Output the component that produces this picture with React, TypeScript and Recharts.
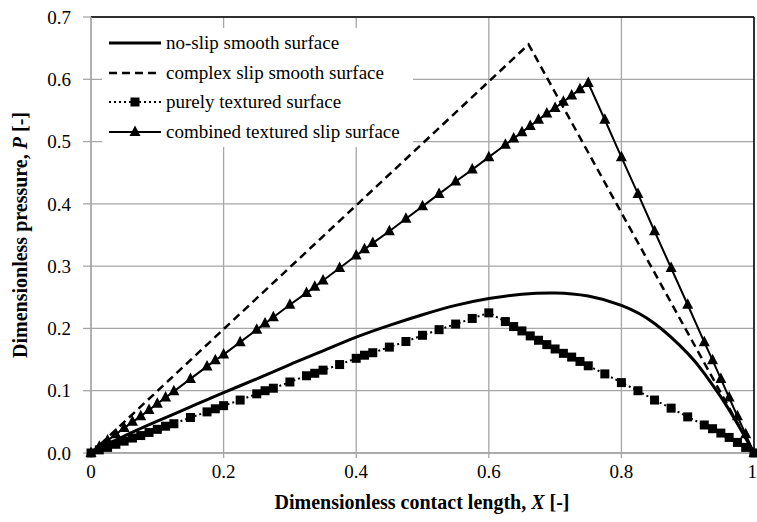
import React from "react";
import {
  LineChart,
  Line,
  XAxis,
  YAxis,
  CartesianGrid,
  Legend,
  ReferenceLine,
} from "recharts";

// X positions (dimensionless contact length) and P values
const noSlipX = [0, 0.05, 0.1, 0.15, 0.2, 0.25, 0.3, 0.35, 0.4, 0.45, 0.5, 0.55, 0.6, 0.65, 0.7, 0.75, 0.8, 0.85, 0.9, 0.925, 0.95, 0.975, 1];
const noSlipP = [0, 0.027, 0.051, 0.074, 0.097, 0.119, 0.142, 0.164, 0.186, 0.205, 0.222, 0.237, 0.248, 0.255, 0.257, 0.252, 0.237, 0.208, 0.16, 0.128, 0.09, 0.047, 0];

const complexX = [0, 0.66, 1];
const complexP = [0, 0.656, 0];

const texturedX = [
  0, 0.0125, 0.025, 0.0375, 0.05, 0.0625, 0.075, 0.0875, 0.1, 0.1125, 0.125, 0.15, 0.175, 0.1875, 0.2,
  0.225, 0.25, 0.2625, 0.275, 0.3, 0.325, 0.3375, 0.35, 0.375, 0.4, 0.4125, 0.425, 0.45, 0.475, 0.5,
  0.525, 0.55, 0.575, 0.6, 0.625, 0.6375, 0.65, 0.6625, 0.675, 0.6875, 0.7, 0.7125, 0.725, 0.7375,
  0.75, 0.775, 0.8, 0.825, 0.85, 0.875, 0.9, 0.925, 0.9375, 0.95, 0.9625, 0.975, 0.9875, 1,
];
const texturedP = [
  0, 0.005, 0.009, 0.014, 0.019, 0.024, 0.028, 0.033, 0.038, 0.043, 0.047, 0.057, 0.066, 0.071, 0.076,
  0.085, 0.095, 0.1, 0.104, 0.114, 0.124, 0.128, 0.133, 0.142, 0.152, 0.157, 0.161, 0.17, 0.179, 0.189,
  0.198, 0.207, 0.216, 0.225, 0.211, 0.203, 0.196, 0.188, 0.181, 0.174, 0.167, 0.16, 0.154, 0.147,
  0.14, 0.127, 0.113, 0.1, 0.085, 0.072, 0.058, 0.045, 0.039, 0.032, 0.025, 0.017, 0.009, 0,
];

const combinedX = [
  0, 0.0125, 0.025, 0.0375, 0.05, 0.0625, 0.075, 0.0875, 0.1, 0.1125, 0.125, 0.15, 0.175, 0.1875, 0.2,
  0.225, 0.25, 0.2625, 0.275, 0.3, 0.325, 0.3375, 0.35, 0.375, 0.4, 0.4125, 0.425, 0.45, 0.475, 0.5,
  0.525, 0.55, 0.575, 0.6, 0.625, 0.6375, 0.65, 0.6625, 0.675, 0.6875, 0.7, 0.7125, 0.725, 0.7375,
  0.75, 0.775, 0.8, 0.825, 0.85, 0.875, 0.9, 0.925, 0.9375, 0.95, 0.9625, 0.975, 0.9875, 1,
];
const combinedP = [
  0, 0.01, 0.02, 0.03, 0.04, 0.05, 0.059, 0.069, 0.079, 0.089, 0.099, 0.119, 0.139, 0.149, 0.158,
  0.178, 0.198, 0.208, 0.218, 0.238, 0.257, 0.267, 0.277, 0.297, 0.317, 0.327, 0.337, 0.356, 0.376, 0.396,
  0.416, 0.436, 0.455, 0.475, 0.495, 0.505, 0.515, 0.525, 0.535, 0.545, 0.554, 0.564, 0.574, 0.584,
  0.594, 0.535, 0.475, 0.416, 0.356, 0.297, 0.238, 0.178, 0.149, 0.119, 0.089, 0.059, 0.03, 0,
];

const xTicks = [0, 0.2, 0.4, 0.6, 0.8, 1];
const yTicks = [0, 0.1, 0.2, 0.3, 0.4, 0.5, 0.6, 0.7];

const seriesNames = [
  "no-slip smooth surface",
  "complex slip smooth surface",
  "purely textured surface",
  "combined textured slip surface",
];

const toPoints = (xs: number[], ys: number[]) => xs.map((x, i) => ({ x, y: ys[i] }));

const noSlipData = toPoints(noSlipX, noSlipP);
const complexData = toPoints(complexX, complexP);
const texturedData = toPoints(texturedX, texturedP);
const combinedData = toPoints(combinedX, combinedP);

const FONT = "Liberation Serif, Tinos, Times New Roman, DejaVu Serif, serif";
const GRID = "#a6a6a6";

const SquareDot = (props: any) => {
  const { cx, cy, index } = props;
  return <rect key={`sq-${index}`} x={cx - 4.5} y={cy - 4.5} width={9} height={9} fill="#000" />;
};

const TriangleDot = (props: any) => {
  const { cx, cy, index } = props;
  return (
    <path
      key={`tr-${index}`}
      d={`M${cx},${cy - 6.5} L${cx + 5.5},${cy + 4} L${cx - 5.5},${cy + 4} Z`}
      fill="#000"
    />
  );
};

const LegendBox = () => {
  const sym = (i: number) => {
    if (i === 0) return <line x1={0} y1={10} x2={52} y2={10} stroke="#000" strokeWidth={3} />;
    if (i === 1)
      return <line x1={0} y1={10} x2={52} y2={10} stroke="#000" strokeWidth={2.5} strokeDasharray="8 5" />;
    if (i === 2)
      return (
        <g>
          <line x1={0} y1={10} x2={52} y2={10} stroke="#000" strokeWidth={2} strokeDasharray="2 3" />
          <rect x={21.5} y={5.5} width={9} height={9} fill="#000" />
        </g>
      );
    return (
      <g>
        <line x1={0} y1={10} x2={52} y2={10} stroke="#000" strokeWidth={2} />
        <path d="M26,3.5 L31.5,14 L20.5,14 Z" fill="#000" />
      </g>
    );
  };
  return (
    <div style={{ background: "#fff", width: 311, height: 119, paddingLeft: 7, boxSizing: "border-box" }}>
      {seriesNames.map((n, i) => (
        <div key={n} style={{ height: 29.75, display: "flex", alignItems: "center" }}>
          <svg width={52} height={20} style={{ display: "block" }}>
            {sym(i)}
          </svg>
          <span style={{ marginLeft: 5, fontFamily: FONT, fontSize: 19, color: "#000", whiteSpace: "nowrap" }}>
            {n}
          </span>
        </div>
      ))}
    </div>
  );
};

export default function App() {
  return (
    <div style={{ position: "absolute", left: 0, top: 0, background: "#fff", fontFamily: FONT }}>
      <LineChart
        width={757}
        height={522}
        margin={{ top: 17, right: 3, left: 0, bottom: 0 }}
        style={{ fontFamily: FONT }}
      >
        <CartesianGrid stroke={GRID} strokeWidth={1.3} />
        <XAxis
          type="number"
          dataKey="x"
          domain={[0, 1]}
          ticks={xTicks}
          tickFormatter={(v: number) => String(v)}
          height={69}
          stroke={GRID}
          strokeWidth={1.3}
          tickSize={5}
          tickMargin={7}
          tick={{ fill: "#000", fontSize: 19, fontFamily: FONT }}
          label={{
            content: () => (
              <text x={422} y={509} textAnchor="middle" fontFamily={FONT} fontSize={20} fontWeight="bold" fill="#000">
                Dimensionless contact length, <tspan fontStyle="italic">X</tspan> [-]
              </text>
            ),
          }}
        />
        <YAxis
          type="number"
          dataKey="y"
          domain={[0, 0.7]}
          ticks={yTicks}
          tickFormatter={(v: number) => v.toFixed(1)}
          width={91}
          stroke={GRID}
          strokeWidth={1.3}
          tickSize={8}
          tickMargin={12}
          tick={{ fill: "#000", fontSize: 19, fontFamily: FONT }}
          label={{
            content: () => (
              <text
                x={27}
                y={235}
                transform="rotate(-90, 27, 235)"
                textAnchor="middle"
                fontFamily={FONT}
                fontSize={20}
                fontWeight="bold"
                fill="#000"
              >
                Dimensionless pressure, <tspan fontStyle="italic">P</tspan> [-]
              </text>
            ),
          }}
        />
        <ReferenceLine y={0.7} stroke="#000" strokeWidth={1.5} />
        <ReferenceLine x={1} stroke="#000" strokeWidth={1.5} />
        <Legend
          layout="vertical"
          align="center"
          verticalAlign="middle"
          content={() => <LegendBox />}
          wrapperStyle={{ left: 102, top: 28, width: 311, height: 119 }}
        />
        <Line
          data={noSlipData}
          dataKey="y"
          name={seriesNames[0]}
          type="natural"
          stroke="#000"
          strokeWidth={3}
          dot={false}
          isAnimationActive={false}
        />
        <Line
          data={complexData}
          dataKey="y"
          name={seriesNames[1]}
          type="linear"
          stroke="#000"
          strokeWidth={2.5}
          strokeDasharray="8 5"
          dot={false}
          isAnimationActive={false}
        />
        <Line
          data={texturedData}
          dataKey="y"
          name={seriesNames[2]}
          type="linear"
          stroke="#000"
          strokeWidth={2}
          strokeDasharray="2 3"
          dot={SquareDot}
          isAnimationActive={false}
        />
        <Line
          data={combinedData}
          dataKey="y"
          name={seriesNames[3]}
          type="linear"
          stroke="#000"
          strokeWidth={2}
          dot={TriangleDot}
          isAnimationActive={false}
        />
      </LineChart>
    </div>
  );
}
